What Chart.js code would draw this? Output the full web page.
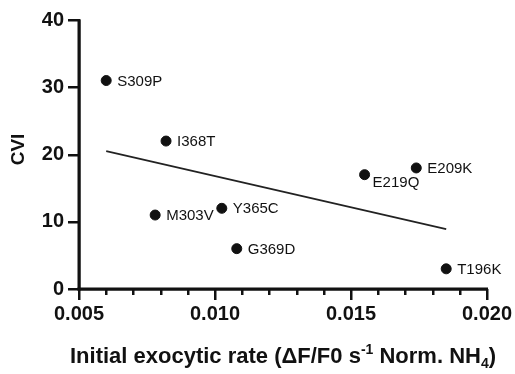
<!DOCTYPE html>
<html>
<head>
<meta charset="utf-8">
<script src="https://cdn.jsdelivr.net/npm/chart.js@4.4.1/dist/chart.umd.min.js"></script>
<style>
  html, body { margin: 0; padding: 0; background: #fff; }
  #wrap { width: 515px; height: 374px; position: relative; }
</style>
</head>
<body>
<div id="wrap"><canvas id="cviChart"></canvas></div>
<script>
const mutants = ["S309P", "I368T", "M303V", "Y365C", "G369D", "E219Q", "E209K", "T196K"];
const exoRate = [0.0060, 0.0082, 0.0078, 0.01025, 0.0108, 0.0155, 0.0174, 0.0185];
const cvi = [31, 22, 11, 12, 6, 17, 18, 3];
// linear fit line at its two ends
const fitX = [0.0060, 0.0185];
const fitY = [20.5, 8.9];
const xTickLabels = ["0.005", "0.010", "0.015", "0.020"];
const yTickLabels = ["0", "10", "20", "30", "40"];

const FONT = "'Liberation Sans', Arial, sans-serif";
const INK = "#111";

// labels beside each point; E219Q sits below right
const pointLabels = {
    id: "pointLabels",
    afterDatasetsDraw(chart) {
        const ctx = chart.ctx;
        const meta = chart.getDatasetMeta(1);
        ctx.save();
        ctx.fillStyle = INK;
        ctx.font = "15px " + FONT;
        meta.data.forEach((pt, i) => {
            if (mutants[i] === "E219Q") {
                ctx.textBaseline = "top";
                ctx.fillText(mutants[i], pt.x + 8, pt.y + 1);
            } else {
                ctx.textBaseline = "middle";
                ctx.fillText(mutants[i], pt.x + 11, pt.y + 1);
            }
        });
        ctx.restore();
    }
};

// axis lines, tick marks (major + minor) and axis titles
const axisExtras = {
    id: "axisExtras",
    afterDraw(chart) {
        const ctx = chart.ctx;
        const xs = chart.scales.x;
        const ys = chart.scales.y;
        const area = chart.chartArea;
        ctx.save();
        ctx.fillStyle = INK;
        // axis lines
        ctx.fillRect(area.left - 1.5, area.top, 3, area.bottom - area.top + 1.5);
        ctx.fillRect(area.left - 1.5, area.bottom - 1.5, area.right - area.left + 2.5, 3);
        xs.ticks.forEach((t, i) => {
            const px = Math.round(xs.getPixelForValue(t.value));
            ctx.fillRect(px - 1, area.bottom, 2.5, i % 5 === 0 ? 11 : 6);
        });
        ys.ticks.forEach(t => {
            const py = Math.round(ys.getPixelForValue(t.value));
            ctx.fillRect(area.left - 11, py - 1, 11, 2.5);
        });

        // x title with superscript and subscript
        ctx.textBaseline = "alphabetic";
        const big = "bold 22px " + FONT;
        const small = "bold 14px " + FONT;
        const parts = [
            ["Initial exocytic rate (\u0394F/F0 s", big, 0],
            ["-1", small, -9],
            [" Norm. NH", big, 0],
            ["4", small, 5],
            [")", big, 0]
        ];
        let total = 0;
        parts.forEach(p => { ctx.font = p[1]; total += ctx.measureText(p[0]).width; });
        let x = (area.left + area.right) / 2 - total / 2;
        const base = 363;
        parts.forEach(p => {
            ctx.font = p[1];
            ctx.fillText(p[0], x, base + p[2]);
            x += ctx.measureText(p[0]).width;
        });

        // y title
        ctx.font = "bold 19px " + FONT;
        ctx.textAlign = "center";
        ctx.textBaseline = "middle";
        ctx.translate(19, (area.top + area.bottom) / 2 - 5);
        ctx.rotate(-Math.PI / 2);
        ctx.fillText("CVI", 0, 0);
        ctx.restore();
    }
};

new Chart(document.getElementById("cviChart"), {
    type: "scatter",
    data: {
        datasets: [
            {
                type: "line",
                data: fitX.map((v, i) => ({ x: v, y: fitY[i] })),
                borderColor: "#222",
                borderWidth: 1.6,
                pointRadius: 0,
                fill: false
            },
            {
                data: exoRate.map((v, i) => ({ x: v, y: cvi[i] })),
                backgroundColor: INK,
                borderColor: INK,
                pointRadius: 5,
                pointHoverRadius: 5
            }
        ]
    },
    options: {
        responsive: true,
        maintainAspectRatio: false,
        animation: false,
        layout: { padding: { top: 20, right: 28, left: 0, bottom: 0 } },
        plugins: { legend: { display: false }, tooltip: { enabled: false } },
        scales: {
            x: {
                type: "linear",
                min: 0.005,
                max: 0.020,
                afterFit(s) { s.height = 85; },
                border: { display: true, color: INK, width: 2.5 },
                grid: { drawOnChartArea: false, drawTicks: true, tickLength: 11, tickColor: "rgba(0,0,0,0)" },
                ticks: {
                    stepSize: 0.001,
                    maxTicksLimit: 20,
                    autoSkip: false,
                    maxRotation: 0,
                    padding: 2,
                    color: INK,
                    font: { family: FONT, size: 20, weight: "bold" },
                    callback: (v, i) => (i % 5 === 0 ? xTickLabels[i / 5] : "")
                }
            },
            y: {
                min: 0,
                max: 40,
                afterFit(s) { s.width = 79; },
                border: { display: true, color: INK, width: 2.5 },
                grid: { drawOnChartArea: false, drawTicks: true, tickLength: 11, tickColor: "rgba(0,0,0,0)" },
                ticks: {
                    stepSize: 10,
                    padding: 4,
                    color: INK,
                    font: { family: FONT, size: 20, weight: "bold" },
                    callback: (v, i) => yTickLabels[i]
                }
            }
        }
    },
    plugins: [pointLabels, axisExtras]
});
</script>
</body>
</html>
